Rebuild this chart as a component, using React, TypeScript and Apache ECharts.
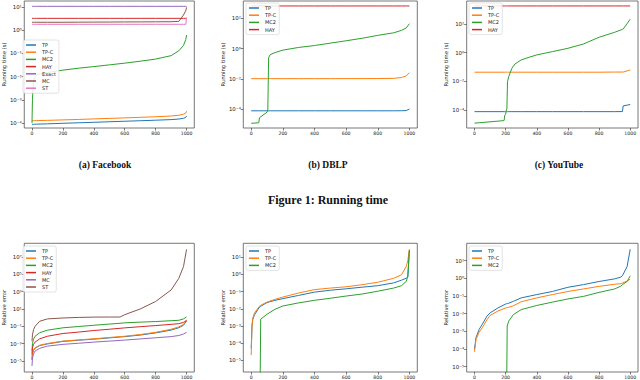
import React, { useEffect, useRef } from "react";
import * as echarts from "echarts";

const COLORS: Record<string, string> = {
  TP: "#1f77b4", "TP-C": "#ff7f0e", MC2: "#2ca02c", HAY: "#d62728",
  Exact: "#9467bd", MC: "#8c564b", ST: "#e377c2",
};
const ERR_COLORS: Record<string, string> = { ...COLORS, MC: "#9467bd", ST: "#8c564b" };

const xTicks = [0, 200, 400, 600, 800, 1000];

// (a) Facebook running time
const fbTimeX = [0, 3, 8, 15, 30, 100, 200, 300, 400, 500, 600, 700, 800, 900, 950, 980, 995, 1000];
const fbTimeTP = [8.7e-5, 8.7e-5, 8.8e-5, 8.8e-5, 8.9e-5, 9.2e-5, 9.7e-5, 1.02e-4, 1.07e-4, 1.13e-4, 1.19e-4, 1.25e-4, 1.32e-4, 1.4e-4, 1.48e-4, 1.6e-4, 1.75e-4, 2.0e-4];
const fbTimeTPC = [1.25e-4, 1.25e-4, 1.26e-4, 1.26e-4, 1.27e-4, 1.3e-4, 1.36e-4, 1.42e-4, 1.5e-4, 1.58e-4, 1.66e-4, 1.75e-4, 1.86e-4, 2.0e-4, 2.15e-4, 2.4e-4, 2.7e-4, 3.2e-4];
const fbTimeMC2 = [1e-4, 1e-3, 5e-3, 9e-3, 0.012, 0.015, 0.019, 0.023, 0.027, 0.032, 0.038, 0.046, 0.057, 0.08, 0.13, 0.22, 0.4, 0.62];
const fbTimeHAY = [3.25, 3.25, 3.25, 3.25, 3.25, 3.25, 3.25, 3.25, 3.25, 3.25, 3.25, 3.25, 3.25, 3.25, 3.25, 3.25, 3.25, 3.25];
const fbTimeExact = [10.7, 10.7, 10.7, 10.7, 10.7, 10.7, 10.7, 10.7, 10.7, 10.7, 10.7, 10.7, 10.7, 10.7, 10.7, 10.7, 10.7, 10.7];
const fbTimeMC = [2.2, 2.2, 2.2, 2.2, 2.2, 2.2, 2.2, 2.22, 2.24, 2.25, 2.27, 2.28, 2.3, 2.32, 2.4, 4.5, 7.0, 9.7];
const fbTimeST = [1.8, 1.8, 1.8, 1.8, 1.8, 1.8, 1.8, 1.8, 1.8, 1.8, 1.8, 1.8, 1.8, 1.8, 1.8, 1.8, 1.8, 3.5];

// (b) DBLP running time
const dbTimeX = [0, 48, 52, 100, 105, 110, 120, 150, 200, 300, 400, 500, 600, 700, 800, 900, 950, 980, 1000];
const dbTimeTP = [8e-5, 8e-5, 8e-5, 8e-5, 8e-5, 8e-5, 8e-5, 8e-5, 8e-5, 8e-5, 8e-5, 8e-5, 8e-5, 8e-5, 8e-5, 8e-5, 8.1e-5, 8.3e-5, 1.05e-4];
const dbTimeTPC = [0.0105, 0.0105, 0.0105, 0.0105, 0.0105, 0.0105, 0.0105, 0.0105, 0.0105, 0.0105, 0.0105, 0.0105, 0.0106, 0.0106, 0.0107, 0.011, 0.0125, 0.016, 0.026];
const dbTimeMC2 = [1.2e-5, 1.3e-5, 2.8e-5, 6.5e-5, 8e-5, 0.25, 0.4, 0.55, 0.8, 1.2, 1.6, 2.3, 3.3, 4.8, 7.5, 11, 16, 23, 44];
const dbTimeHAY = [650, 650, 650, 650, 650, 650, 650, 650, 650, 650, 650, 650, 650, 650, 650, 650, 650, 650, 650];

// (c) YouTube running time
const ytTimeX = [0, 190, 195, 200, 205, 208, 212, 220, 240, 260, 300, 350, 400, 500, 600, 700, 800, 900, 950, 955, 1000];
const ytTimeTP = [7.6e-5, 7.6e-5, 7.6e-5, 7.6e-5, 7.6e-5, 7.6e-5, 7.6e-5, 7.6e-5, 7.6e-5, 7.6e-5, 7.6e-5, 7.6e-5, 7.6e-5, 7.6e-5, 7.6e-5, 7.6e-5, 7.6e-5, 7.6e-5, 7.7e-5, 1.9e-4, 2.4e-4];
const ytTimeTPC = [0.043, 0.043, 0.043, 0.043, 0.043, 0.043, 0.043, 0.043, 0.043, 0.043, 0.043, 0.043, 0.043, 0.043, 0.043, 0.043, 0.043, 0.044, 0.044, 0.044, 0.062];
const ytTimeMC2 = [1.2e-5, 1.8e-5, 4.5e-5, 5e-5, 1e-4, 1.2e-4, 0.0093, 0.021, 0.08, 0.16, 0.31, 0.47, 0.69, 1.17, 2.0, 4.0, 11.8, 26, 42, 44, 213];
const ytTimeHAY = [1800, 1800, 1800, 1800, 1800, 1800, 1800, 1800, 1800, 1800, 1800, 1800, 1800, 1800, 1800, 1800, 1800, 1800, 1800, 1800, 1800];

// Facebook relative error
const fbErrX = [0, 3, 10, 20, 50, 100, 200, 300, 400, 500, 570, 600, 700, 800, 900, 950, 980, 1000];
const fbErrTP = [1.3e-5, 7e-5, 1.6e-4, 2.9e-4, 5.8e-4, 9e-4, 1.75e-3, 2.4e-3, 3.2e-3, 4.5e-3, 5.7e-3, 6.3e-3, 9.5e-3, 0.017, 0.036, 0.068, 0.13, 0.4];
const fbErrTPC = [1.5e-5, 8e-5, 1.8e-4, 3.2e-4, 6.3e-4, 1e-3, 1.9e-3, 2.6e-3, 3.5e-3, 5e-3, 6.3e-3, 7e-3, 0.011, 0.02, 0.045, 0.085, 0.16, 0.49];
const fbErrMC2 = [1.35e-4, 1e-3, 3.2e-3, 7e-3, 0.018, 0.035, 0.066, 0.093, 0.13, 0.18, 0.22, 0.25, 0.3, 0.35, 0.44, 0.49, 0.71, 1.2];
const fbErrHAY = [5.6e-5, 3.2e-4, 8e-4, 1.45e-3, 3.5e-3, 7e-3, 0.0145, 0.021, 0.032, 0.045, 0.058, 0.065, 0.089, 0.12, 0.166, 0.2, 0.28, 0.49];
const fbErrMC = [2.5e-6, 2e-5, 6.3e-5, 1.35e-4, 2.8e-4, 5e-4, 8e-4, 1.07e-3, 1.45e-3, 1.9e-3, 2.3e-3, 2.5e-3, 3.4e-3, 4.6e-3, 6.3e-3, 8.5e-3, 0.0126, 0.02];
const fbErrST = [1.9e-3, 0.01, 0.04, 0.1, 0.38, 0.71, 0.91, 1.05, 1.15, 1.17, 1.17, 2.2, 10, 74, 1600, 3.6e4, 8e5, 8e7];

// DBLP relative error
const dbErrX = [0, 5, 10, 20, 50, 55, 60, 100, 150, 200, 300, 400, 500, 600, 700, 800, 900, 950, 980, 990, 1000];
const dbErrTP = [5e-5, 1e-3, 2.4e-3, 4.3e-3, 0.0117, 0.0125, 0.014, 0.023, 0.031, 0.039, 0.06, 0.093, 0.12, 0.145, 0.18, 0.22, 0.32, 0.46, 0.6, 0.7, 26];
const dbErrTPC = [2e-5, 1.1e-3, 2.8e-3, 5.5e-3, 0.0135, 0.0145, 0.016, 0.0245, 0.035, 0.048, 0.083, 0.13, 0.16, 0.19, 0.25, 0.35, 0.59, 0.95, 2.9, 6.3, 29];
const dbErrMC2 = [null, null, null, null, null, 1e-8, 2.5e-3, 4.8e-3, 9.3e-3, 0.0145, 0.022, 0.031, 0.041, 0.055, 0.072, 0.105, 0.16, 0.22, 0.39, 0.78, 26];

// YouTube relative error
const ytErrX = [0, 10, 30, 50, 80, 100, 150, 200, 205, 210, 220, 250, 300, 400, 500, 600, 700, 800, 900, 940, 950, 980, 1000];
const ytErrTP = [1e-4, 4.5e-4, 1.3e-3, 2.5e-3, 7.2e-3, 0.011, 0.021, 0.035, 0.036, 0.037, 0.039, 0.05, 0.078, 0.12, 0.18, 0.31, 0.44, 0.66, 0.93, 1.17, 1.4, 4.6, 44];
const ytErrTPC = [7e-5, 3.5e-4, 9e-4, 1.6e-3, 4.5e-3, 7.9e-3, 0.014, 0.021, 0.0215, 0.022, 0.023, 0.028, 0.047, 0.078, 0.12, 0.18, 0.25, 0.35, 0.46, 0.5, 0.54, 0.7, 0.9];
const ytErrMC2 = [null, null, null, null, null, null, null, null, 1e-8, 2e-3, 3.8e-3, 8.9e-3, 0.017, 0.029, 0.045, 0.068, 0.095, 0.16, 0.25, 0.36, 0.44, 0.66, 1.38];

const SUP: Record<string, string> = { "-": "⁻", "0": "⁰", "1": "¹", "2": "²", "3": "³", "4": "⁴", "5": "⁵", "6": "⁶", "7": "⁷", "8": "⁸", "9": "⁹" };
const sup = (n: number) => String(Math.round(n)).split("").map((c) => SUP[c] || c).join("");

const FONT = "DejaVu Sans";

export default function App() {
  const ref = useRef<HTMLDivElement>(null);
  useEffect(() => {
    if (!ref.current) return;
    const chart = echarts.init(ref.current, undefined, { renderer: "svg" });

    const grids = [
      { left: 22, top: 1, width: 172.3, height: 127 },
      { left: 243.3, top: 1, width: 174, height: 127 },
      { left: 466.7, top: 1, width: 171.3, height: 127 },
      { left: 21.7, top: 243.3, width: 172.6, height: 129.7 },
      { left: 243.3, top: 243.3, width: 174, height: 129.7 },
      { left: 466.7, top: 243.3, width: 171.3, height: 129.7 },
    ];
    const yCfg = [
      { min: -4.216, max: 1.259, ticks: [-4, -3, -2, -1, 0, 1], name: "Running time (s)", gap: 14 },
      { min: -5.23, max: 3.14, ticks: [-4, -2, 0, 2], name: "Running time (s)", gap: 14 },
      { min: -5.26, max: 3.6, ticks: [-4, -2, 0, 2], name: "Running time (s)", gap: 16 },
      { min: -6.3, max: 8.61, ticks: [-5, -3, -1, 1, 3, 5, 7], name: "Relative error", gap: 12 },
      { min: -5.68, max: 1.81, ticks: [-5, -4, -3, -2, -1, 0, 1], name: "Relative error", gap: 14 },
      { min: -5.3, max: 1.98, ticks: [-5, -4, -3, -2, -1, 0, 1], name: "Relative error", gap: 16 },
    ];

    const panels: { xs: number[]; series: [string, (number | null)[]][]; colors: Record<string, string> }[] = [
      { xs: fbTimeX, colors: COLORS, series: [["TP", fbTimeTP], ["TP-C", fbTimeTPC], ["MC2", fbTimeMC2], ["HAY", fbTimeHAY], ["Exact", fbTimeExact], ["MC", fbTimeMC], ["ST", fbTimeST]] },
      { xs: dbTimeX, colors: COLORS, series: [["TP", dbTimeTP], ["TP-C", dbTimeTPC], ["MC2", dbTimeMC2], ["HAY", dbTimeHAY]] },
      { xs: ytTimeX, colors: COLORS, series: [["TP", ytTimeTP], ["TP-C", ytTimeTPC], ["MC2", ytTimeMC2], ["HAY", ytTimeHAY]] },
      { xs: fbErrX, colors: ERR_COLORS, series: [["TP", fbErrTP], ["TP-C", fbErrTPC], ["MC2", fbErrMC2], ["HAY", fbErrHAY], ["MC", fbErrMC], ["ST", fbErrST]] },
      { xs: dbErrX, colors: COLORS, series: [["TP", dbErrTP], ["TP-C", dbErrTPC], ["MC2", dbErrMC2]] },
      { xs: ytErrX, colors: COLORS, series: [["TP", ytErrTP], ["TP-C", ytErrTPC], ["MC2", ytErrMC2]] },
    ];

    const legendPos = [
      { left: 23, top: 40 },
      { left: 246, top: 3 },
      { left: 469, top: 3 },
      { left: 23, top: 246 },
      { left: 246, top: 246 },
      { left: 469, top: 246 },
    ];

    const series: any[] = [];
    panels.forEach((p, gi) => {
      p.series.forEach(([name, vals]) => {
        series.push({
          type: "line",
          name,
          xAxisIndex: gi,
          yAxisIndex: gi,
          data: p.xs.map((x, i) => [x, vals[i] == null ? "-" : Math.log10(vals[i] as number)]),
          showSymbol: false,
          symbol: "none",
          clip: true,
          silent: true,
          lineStyle: { width: 1, color: p.colors[name] },
          itemStyle: { color: p.colors[name] },
        });
      });
    });

    const cap = (text: string, x: number, y: number, size: number) => ({
      type: "text", x, y,
      style: { text, align: "center", verticalAlign: "middle", fontSize: size, fontWeight: "bold", fontFamily: "Liberation Serif", fill: "#111" },
    });

    const option: any = {
      animation: false,
      backgroundColor: "#fff",
      grid: grids.map((g) => ({ ...g, show: true, borderColor: "#555", borderWidth: 0.8, backgroundColor: "transparent", containLabel: false })),
      xAxis: grids.map((_, gi) => ({
        type: "value",
        gridIndex: gi,
        min: -50,
        max: 1050,
        position: "bottom",
        splitLine: { show: false },
        axisLine: { show: false, onZero: false },
        axisTick: { show: true, length: 2.5, customValues: xTicks, lineStyle: { color: "#444", width: 0.7 } },
        axisLabel: { customValues: xTicks, fontSize: 4.6, color: "#222", margin: 3, fontFamily: FONT, formatter: (v: number) => String(v) },
      })),
      yAxis: yCfg.map((c, gi) => ({
        type: "value",
        gridIndex: gi,
        min: c.min,
        max: c.max,
        position: "left",
        name: c.name,
        nameLocation: "middle",
        nameGap: c.gap,
        nameTextStyle: { fontSize: 5.3, color: "#222", fontFamily: FONT },
        splitLine: { show: false },
        axisLine: { show: false, onZero: false },
        axisTick: { show: true, length: 2.5, customValues: c.ticks, lineStyle: { color: "#444", width: 0.7 } },
        axisLabel: {
          customValues: c.ticks,
          fontSize: 5.4,
          color: "#222",
          margin: 2.5,
          fontFamily: FONT,
          formatter: (v: number) => "10" + sup(v),
        },
      })),
      legend: panels.map((p, gi) => ({
        ...legendPos[gi],
        orient: "vertical",
        icon: "rect",
        itemWidth: 10,
        itemHeight: 1.5,
        itemGap: 1.2,
        padding: [2, 3, 2, 3],
        borderColor: "#d0d0d0",
        borderWidth: 0.6,
        borderRadius: 2,
        backgroundColor: "rgba(255,255,255,0.85)",
        selectedMode: false,
        textStyle: { fontSize: 5, color: "#222", fontFamily: FONT, lineHeight: 6, padding: [0, 0, 0, 1] },
        data: p.series.map(([name]) => ({ name, itemStyle: { color: p.colors[name] } })),
      })),
      graphic: [
        cap("(a) Facebook", 105, 165, 9.5),
        cap("(b) DBLP", 328, 165, 9.5),
        cap("(c) YouTube", 559, 165, 9.5),
        cap("Figure 1: Running time", 328, 200, 12),
      ],
      series,
    };
    chart.setOption(option);
    return () => chart.dispose();
  }, []);
  return <div ref={ref} style={{ position: "fixed", left: 0, top: 0, width: 640, height: 380, background: "#fff" }} />;
}
